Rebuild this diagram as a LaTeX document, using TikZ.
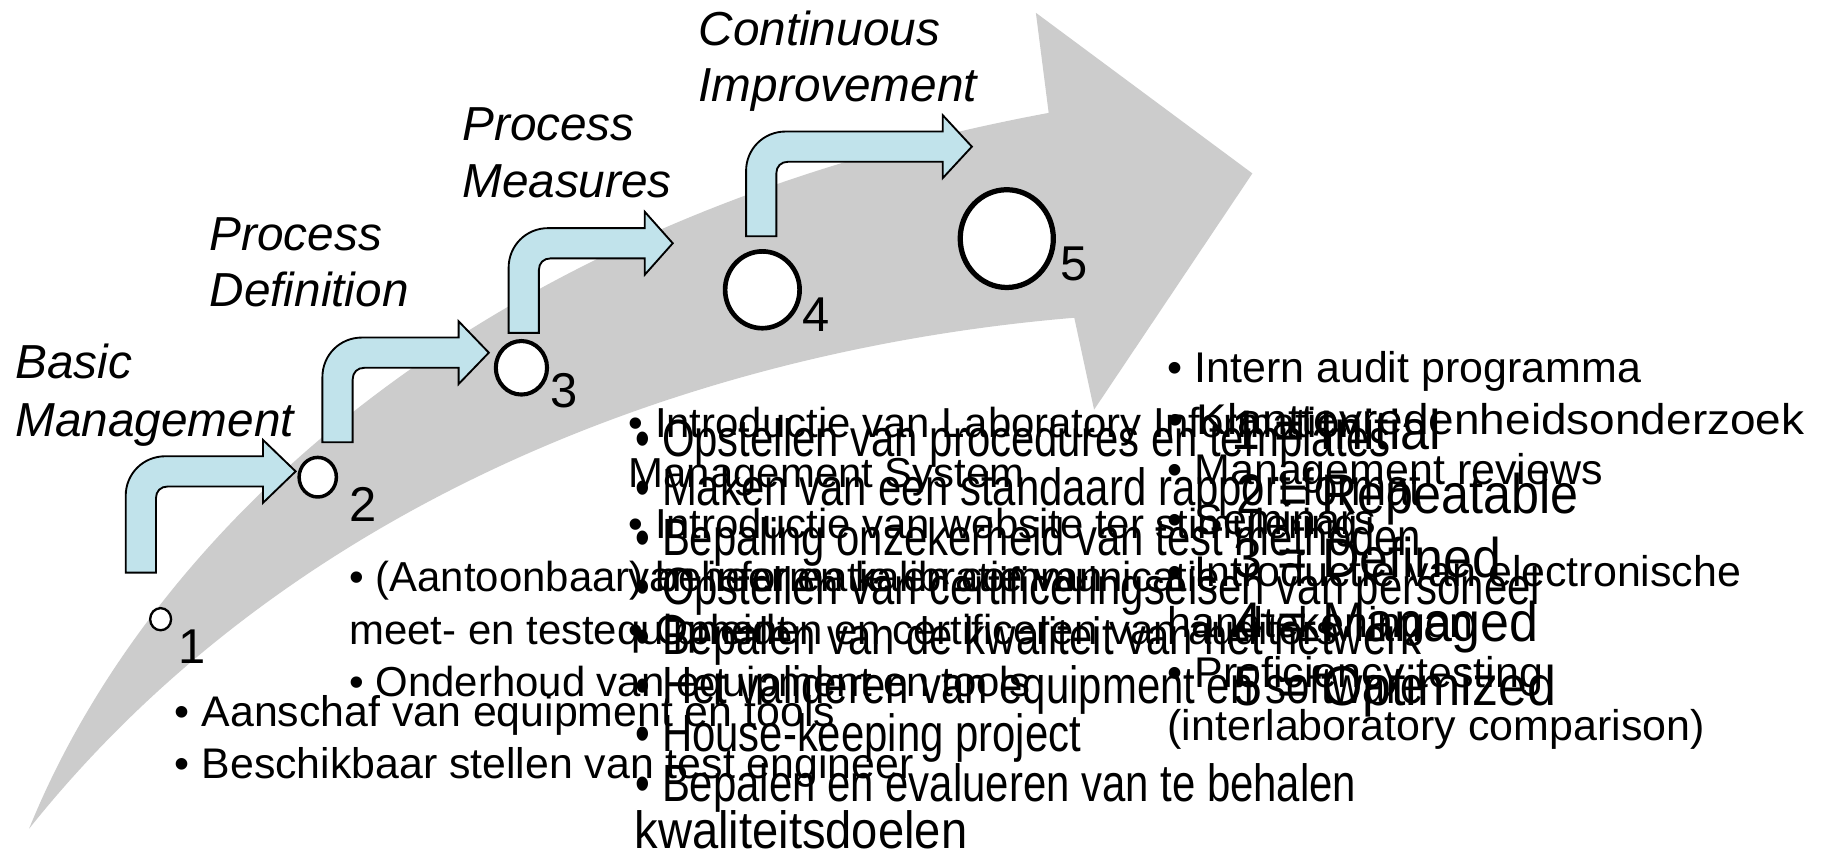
\documentclass[tikz,border=0pt]{standalone}
\usepackage{fontspec}
\setmainfont{Liberation Sans}
\usetikzlibrary{shapes.geometric}
\definecolor{band}{RGB}{204,204,204}
\definecolor{stepblue}{RGB}{193,227,235}
% horizontally condensed text
\newcommand\squeezeD[1]{\scalebox{0.8}[1]{#1}}
\newcommand\squeezeF[1]{\scalebox{0.93}[1]{#1}}
% bent step arrow: #1 stem left x, #2 stem bottom y, #3 top of horizontal part, #4 head base x, #5 tip x
\newcommand\bentarrow[5]{%
  \draw[stepbox] (#1,#2) -- (#1,{#3+34}) .. controls (#1,{#3+15}) and ({#1+15},#3) .. ({#1+34},#3)
    -- (#4,#3) -- (#4,{#3-14}) -- (#5,{#3+13}) -- (#4,{#3+40}) -- (#4,{#3+26})
    -- ({#1+36},{#3+26}) .. controls ({#1+30},{#3+26}) and ({#1+26},{#3+30}) .. ({#1+26},{#3+36})
    -- ({#1+26},#2) -- cycle;}
\begin{document}
\begin{tikzpicture}[x=1pt,y=-1pt,
  stepbox/.style={fill=stepblue,draw=black,line width=1.6pt,line join=miter},
  ring/.style={ellipse,draw=black,fill=white,inner sep=0pt},
  num/.style={anchor=base west,inner sep=0pt,font=\fontsize{42}{42}\selectfont},
  lbl/.style={anchor=base west,inner sep=0pt,font=\fontsize{41}{48}\selectfont\itshape},
  txt/.style={anchor=base west,inner sep=0pt,font=\fontsize{36}{44}\selectfont},
  wtxt/.style={anchor=base west,inner sep=0pt,font=\fontsize{36.8}{44}\selectfont},
  etxt/.style={anchor=base west,inner sep=0pt,font=\fontsize{36.9}{44}\selectfont},
  tall/.style={anchor=base west,inner sep=0pt,font=\fontsize{45}{45}\selectfont},
  lvl/.style={anchor=base west,inner sep=0pt,font=\fontsize{48}{48}\selectfont}]
\useasboundingbox[fill=white] (0,0) rectangle (1568,733);

% large grey curved arrow
\fill[band] (25,712) .. controls (125,465) and (400,190) .. (901,97)
  -- (890,11) -- (1076,149) -- (940,352) -- (923,273)
  .. controls (600,300) and (250,430) .. (25,712) -- cycle;

% step arrows
\bentarrow{108}{492}{392}{226}{254}
\bentarrow{277}{380}{290}{394}{420}
\bentarrow{437}{286}{196}{554}{578}
\bentarrow{641}{203}{113}{810}{835}

% maturity circles with their numbers
\node[ring,line width=2pt,minimum width=18pt,minimum height=19pt] (c1) at (138,532) {};
\node[ring,line width=3pt,minimum width=32pt,minimum height=34pt] (c2) at (273,410) {};
\node[ring,line width=3.5pt,minimum width=44pt,minimum height=46pt] (c3) at (448,316) {};
\node[ring,line width=4pt,minimum width=64pt,minimum height=66pt] (c4) at (655,249) {};
\node[ring,line width=4.5pt,minimum width=80pt,minimum height=84pt] (c5) at (865,205) {};
\node[num] (n1) at (153,570) {1};
\node[num] (n2) at (300,448) {2};
\node[num] (n3) at (473,350) {3};
\node[num] (n4) at (689,285) {4};
\node[num] (n5) at (911,241) {5};

% stage labels
\node[lbl] (l1a) at (13,325) {Basic};
\node[lbl] (l1b) at (13,375) {Management};
\node[lbl] (l2a) at (180,215) {Process};
\node[lbl] (l2b) at (180,263) {Definition};
\node[lbl] (l3a) at (397,121) {Process};
\node[lbl] (l3b) at (397,170) {Measures};
\node[lbl] (l4a) at (600,39) {Continuous};
\node[lbl] (l4b) at (600,87) {Improvement};

% level 2 actions
\node[wtxt] (a1) at (150,624) {• Aanschaf van equipment en tools};
\node[wtxt] (a2) at (150,669) {• Beschikbaar stellen van test engineer};

% level 3 actions
\node[txt] (b1) at (300,508) {• (Aantoonbaar) beheer en kalibratie van};
\node[txt] (b2) at (300,554) {meet- en testequipment};
\node[txt] (b3) at (300,598) {• Onderhoud van equipment en tools};

% level 4 actions
\node[txt] (k1) at (540,376) {• Introductie van Laboratory Information};
\node[txt] (k2) at (540,419) {Management System};
\node[txt] (k3) at (540,463) {• Introductie van website ter stimulering};
\node[txt] (k4) at (540,508) {van informatie en communicatie};
\node[txt] (k5) at (540,554) {• Opleiden en certificeren van auditors};

% procedures and quality actions
\node[tall] (d1) at (546,392) {\squeezeD{• Opstellen van procedures en templates}};
\node[tall] (d2) at (546,434) {\squeezeD{• Maken van een standaard rapport format}};
\node[tall] (d3) at (546,477) {\squeezeD{• Bepaling onzekerheid van test methoden}};
\node[tall] (d4) at (546,519) {\squeezeD{• Opstellen van certificeringseisen van personeel}};
\node[tall] (d5) at (546,562) {\squeezeD{• Bepalen van de kwaliteit van het netwerk}};
\node[tall] (d6) at (546,604) {\squeezeD{• Het valideren van equipment en software}};
\node[tall] (d7) at (546,646) {\squeezeD{• House-keeping project}};
\node[tall] (d8) at (546,689) {\squeezeD{• Bepalen en evalueren van te behalen}};
\node[tall] (d9) at (545,729) {\scalebox{0.9}[1]{kwaliteitsdoelen}};

% level 5 actions
\node[etxt] (e1) at (1003,329) {• Intern audit programma};
\node[etxt] (e2) at (1003,373) {\scalebox{1.07}[1]{• Klanttevredenheidsonderzoek}};
\node[etxt] (e3) at (1003,416) {• Management reviews};
\node[etxt] (e4) at (1003,459) {• Seminars};
\node[etxt] (e5) at (1003,504) {• Introductie van electronische};
\node[etxt] (e6) at (1003,548) {handtekeningen};
\node[etxt] (e7) at (1003,591) {• Proficiency testing};
\node[etxt] (e8) at (1003,636) {(interlaboratory comparison)};

% maturity levels
\node[lvl] (m1) at (1058,386) {\squeezeF{1 = Initial}};
\node[lvl] (m2) at (1062,441) {\scalebox{0.9}[1]{2 = Repeatable}};
\node[lvl] (m3) at (1060,496) {\squeezeF{3 = Defined}};
\node[lvl] (m4) at (1060,551) {\squeezeF{4 = Managed}};
\node[lvl] (m5) at (1060,606) {\squeezeF{5 = Optimized}};
\end{tikzpicture}
\end{document}
